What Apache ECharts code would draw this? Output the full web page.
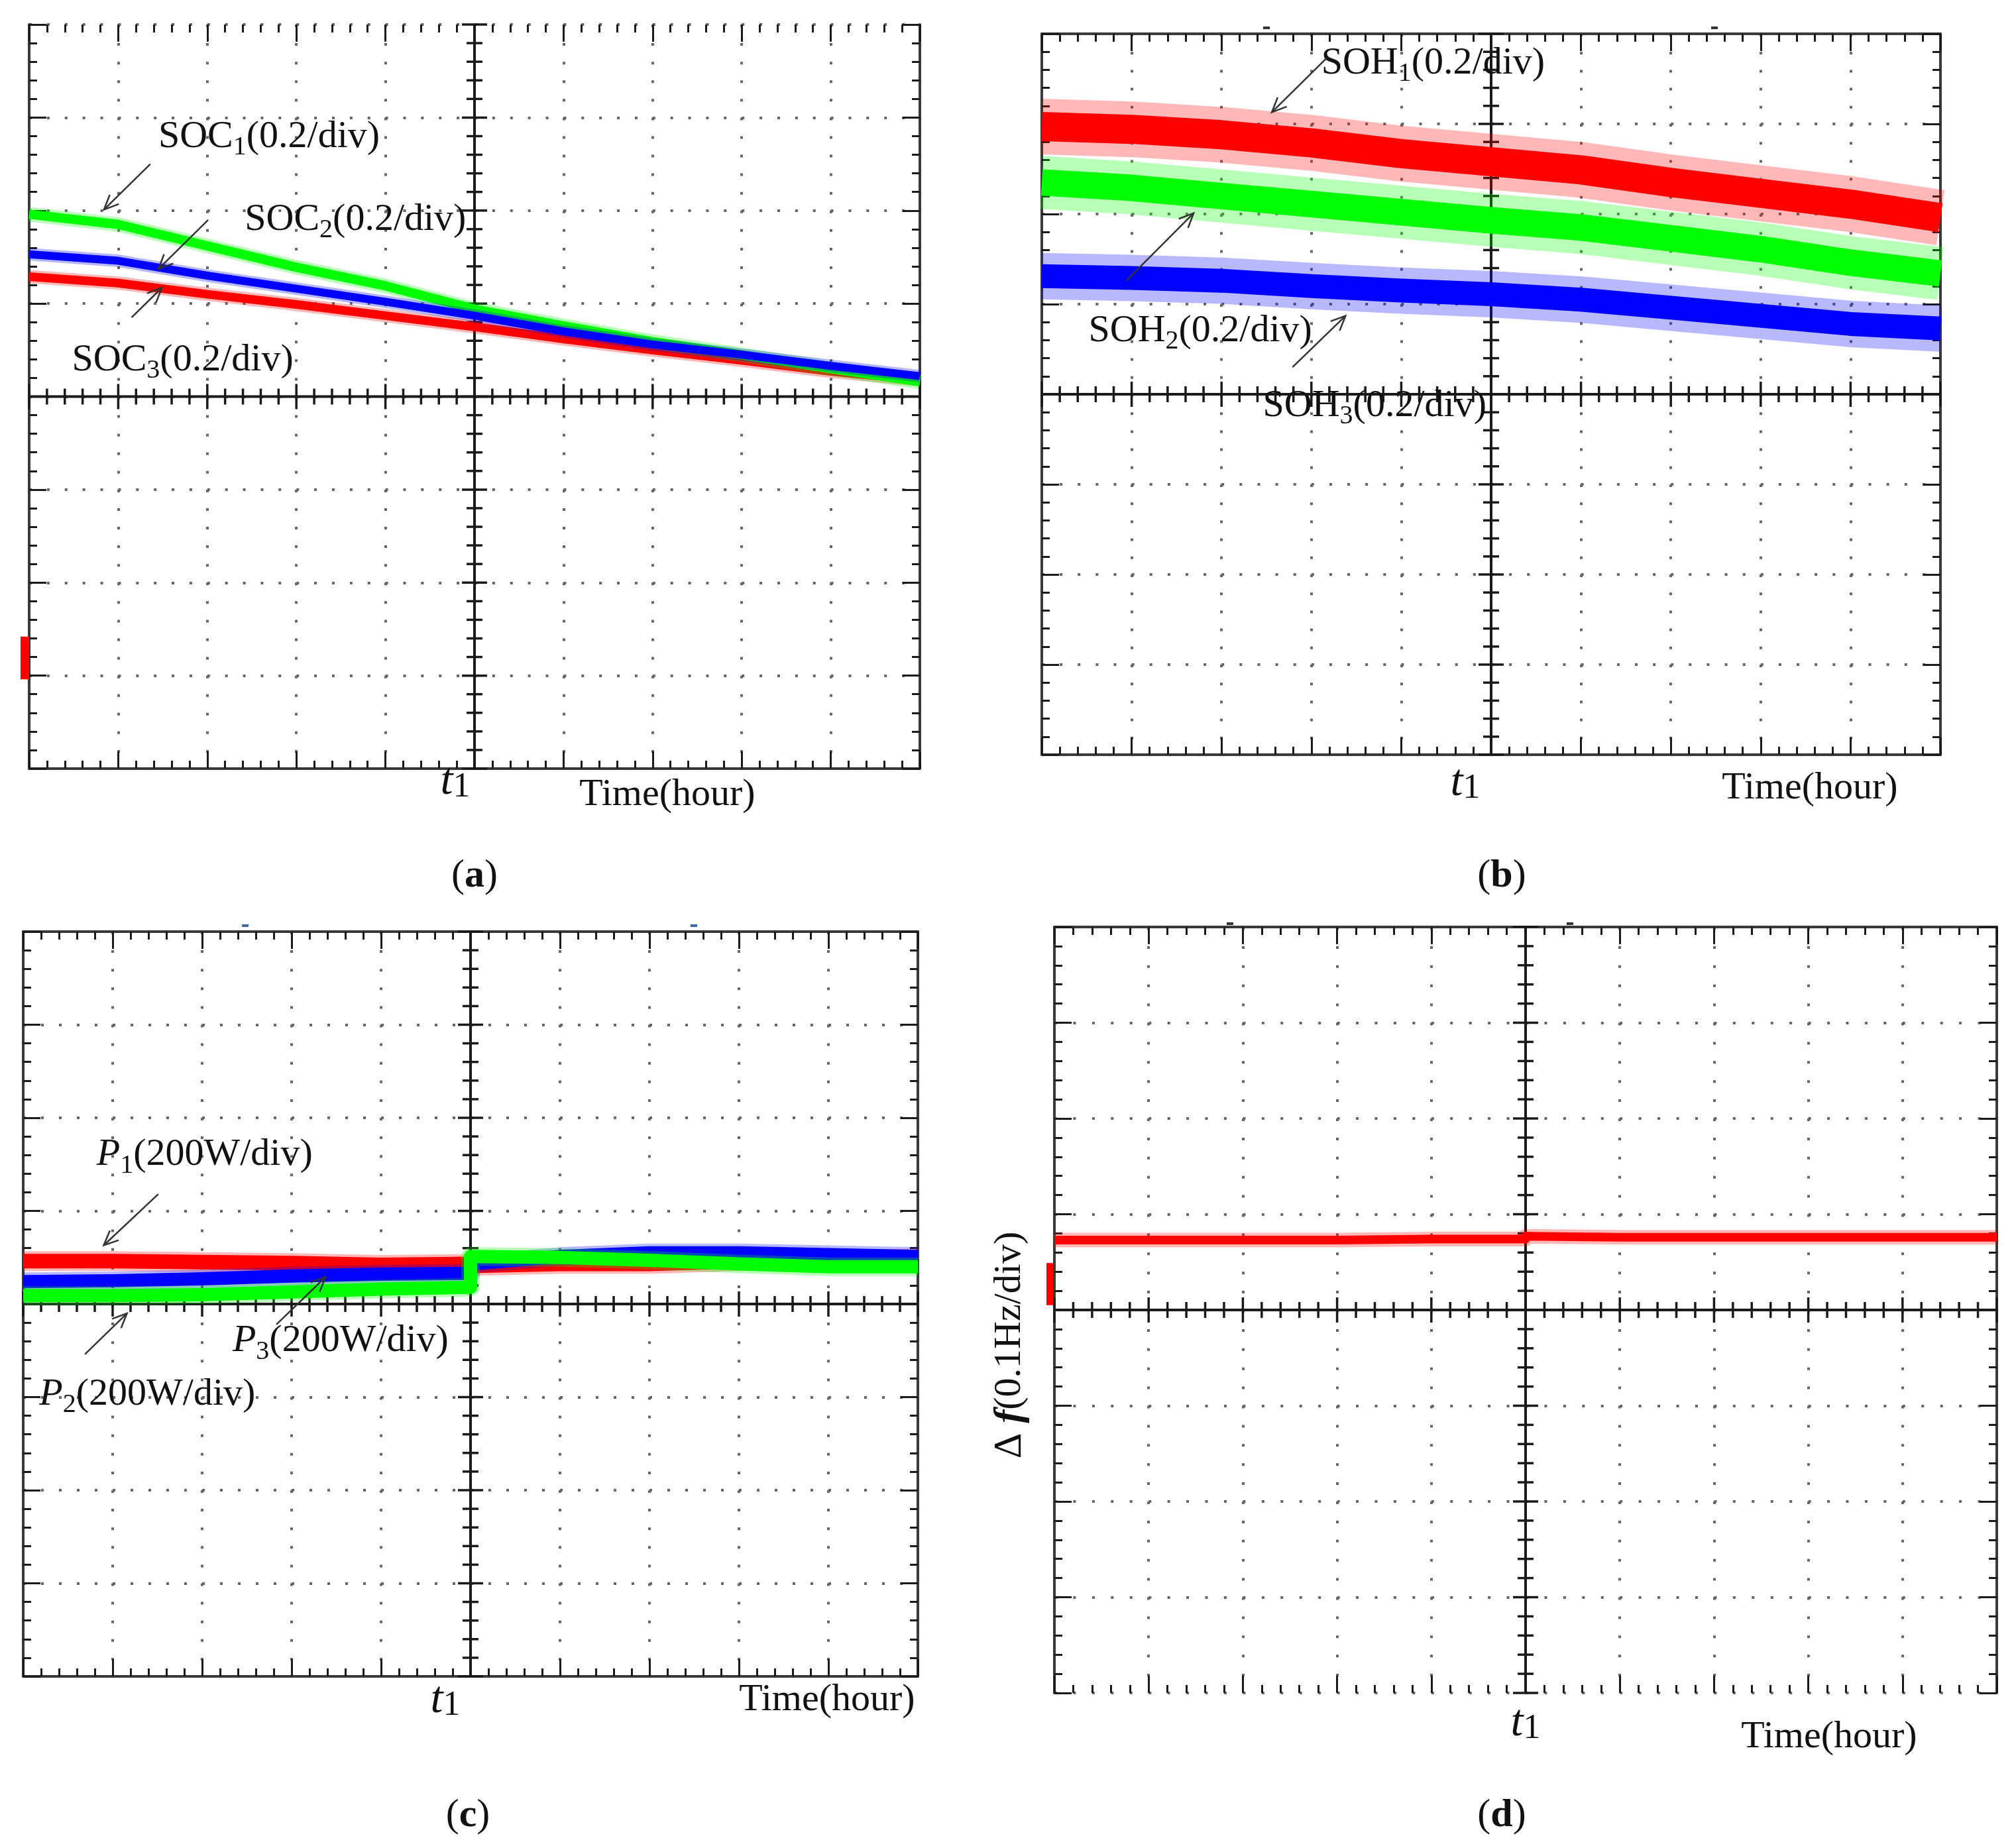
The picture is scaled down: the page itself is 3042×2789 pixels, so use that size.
<!DOCTYPE html>
<html>
<head>
<meta charset="utf-8">
<script src="https://cdn.jsdelivr.net/npm/echarts@6/dist/echarts.min.js"></script>
<style>
html,body{margin:0;padding:0;background:#fff;}
#main{width:3042px;height:2789px;}
</style>
</head>
<body>
<div id="main"></div>
<script>
// all values are in screen divisions, t1 sits at x = 0
var xDiv = [-5,-4,-3,-2,-1,0,1,2,3,4,5];
// (a) SOC traces
var soc1 = [1.96,1.85,1.62,1.39,1.19,0.94,0.76,0.59,0.45,0.30,0.16];
var soc2 = [1.53,1.46,1.30,1.16,1.02,0.87,0.70,0.56,0.45,0.33,0.22];
var soc3 = [1.29,1.22,1.10,0.99,0.87,0.75,0.62,0.50,0.39,0.27,0.18];
// (b) SOH traces
var soh1 = [2.97,2.94,2.88,2.79,2.67,2.58,2.49,2.35,2.23,2.11,1.96];
var soh2 = [2.35,2.29,2.20,2.11,2.02,1.93,1.85,1.73,1.61,1.46,1.34];
var soh3 = [1.31,1.29,1.26,1.20,1.15,1.11,1.05,0.96,0.87,0.78,0.73];
// (c) power traces, before and after t1
var xLeft = [-5,-4,-3,-2,-1,0];
var xRight = [0,1,2,3,4,5];
var p1Left = [0.46,0.46,0.45,0.44,0.42,0.43];
var p1Right = [0.41,0.43,0.43,0.46,0.47,0.49];
var p2Left = [0.24,0.25,0.27,0.30,0.32,0.33];
var p2Right = [0.43,0.51,0.55,0.55,0.53,0.51];
var p3Left = [0.09,0.09,0.10,0.13,0.16,0.18];
var p3Right = [0.51,0.50,0.47,0.43,0.40,0.40];
// (d) frequency deviation
var dfLeft = [0.73,0.73,0.73,0.73,0.74,0.74];
var dfRight = [0.77,0.76,0.76,0.76,0.76,0.76];

var SERIF = "'Liberation Serif','Times New Roman',serif";
var INK = '#1a1a1a', FRAME = '#3a3a3a';
var RED = '#ff0000', GREEN = '#00ff00', BLUE = '#0000ff';

var panels = [
	{left:44, top:37, width:1344, height:1123, topLine:false, bottomLine:true},
	{left:1572, top:51, width:1356, height:1088, topLine:true, bottomLine:true},
	{left:35, top:1406, width:1350, height:1124, topLine:true, bottomLine:true},
	{left:1591, top:1399, width:1422, height:1156, topLine:true, bottomLine:false}
];

function zip(xs, ys){
	var out = [];
	for (var i = 0; i < xs.length; i++) out.push([xs[i], ys[i]]);
	return out;
}

//外框坐标轴(带刻度和点状网格)
function frameAxis(dim, gi, pos, p, split, lineShow){
	var isX = dim == 'x';
	var step = isX ? p.height / 40 : p.width / 50;
	return {
		type: 'value', gridIndex: gi, position: pos,
		min: isX ? -5 : -4, max: isX ? 5 : 4, interval: 1,
		axisLine: {show: lineShow, onZero: false, lineStyle: {color: FRAME, width: 4}},
		axisTick: {show: true, inside: true, length: 26, lineStyle: {color: INK, width: 3}},
		minorTick: {show: true, splitNumber: 5, length: 12, lineStyle: {color: INK, width: 3}},
		axisLabel: {show: false},
		splitLine: {show: split, lineStyle: {color: '#666', width: 4, type: [4, step - 4]}},
		minorSplitLine: {show: false}
	};
}

var grids = [], xAxes = [], yAxes = [];
for (var i = 0; i < panels.length; i++){
	var p = panels[i];
	grids.push({left: p.left, top: p.top, width: p.width, height: p.height, outerBoundsMode: 'none', containLabel: false});
	xAxes.push(frameAxis('x', i, 'bottom', p, true, p.bottomLine));
	xAxes.push(frameAxis('x', i, 'top', p, false, p.topLine));
	yAxes.push(frameAxis('y', i, 'left', p, true, true));
	yAxes.push(frameAxis('y', i, 'right', p, false, true));
}

function trace(pi, name, data, color, width, halo){
	var list = [];
	if (halo) {
		list.push({
			type: 'line', name: name, xAxisIndex: 2*pi, yAxisIndex: 2*pi,
			data: data, symbol: 'none', showSymbol: false, silent: true, z: 3,
			lineStyle: {color: color, width: halo, opacity: 0.28, cap: 'butt', join: 'round'}
		});
	}
	list.push({
		type: 'line', name: name, xAxisIndex: 2*pi, yAxisIndex: 2*pi,
		data: data, symbol: 'none', showSymbol: false, silent: true, z: 3,
		lineStyle: {color: color, width: width, cap: 'butt', join: 'round'}
	});
	return list;
}

var series = [].concat(
	trace(0, 'SOC3', zip(xDiv, soc3), RED, 13, 20),
	trace(0, 'SOC1', zip(xDiv, soc1), GREEN, 14, 22),
	trace(0, 'SOC2', zip(xDiv, soc2), BLUE, 12, 19),
	trace(1, 'SOH1', zip(xDiv, soh1), RED, 44, 84),
	trace(1, 'SOH2', zip(xDiv, soh2), GREEN, 40, 80),
	trace(1, 'SOH3', zip(xDiv, soh3), BLUE, 36, 70),
	trace(2, 'P1', zip(xLeft, p1Left).concat(zip(xRight, p1Right)), RED, 22, 30),
	trace(2, 'P2', zip(xLeft, p2Left).concat(zip(xRight, p2Right)), BLUE, 20, 28),
	trace(2, 'P3', zip(xLeft, p3Left).concat(zip(xRight, p3Right)), GREEN, 20, 28),
	trace(3, 'df', zip(xLeft, dfLeft).concat(zip(xRight, dfRight)), RED, 13, 22)
);

var chart = echarts.init(document.getElementById('main'));
chart.setOption({
	animation: false,
	backgroundColor: '#fff',
	grid: grids,
	xAxis: xAxes,
	yAxis: yAxes,
	series: series
});

/*
 * 中心十字线、标注文字与箭头
 */
function px(pi, x, y){
	return chart.convertToPixel({xAxisIndex: 2*pi, yAxisIndex: 2*pi}, [x, y]);
}
function seg(x1, y1, x2, y2, w, z){
	return {type: 'line', silent: true, z: z, shape: {x1: x1, y1: y1, x2: x2, y2: y2}, style: {stroke: INK, lineWidth: w}};
}
function crosshair(pi){
	var out = [];
	var l = px(pi, -5, 0), r = px(pi, 5, 0), t = px(pi, 0, 4), b = px(pi, 0, -4);
	out.push(seg(l[0], l[1], r[0], r[1], 4, 1));
	out.push(seg(t[0], t[1], b[0], b[1], 4, 1));
	for (var k = -25; k <= 25; k++){
		var q = px(pi, k / 5, 0), L = k % 5 == 0 ? 19 : 12;
		out.push(seg(q[0], q[1] - L, q[0], q[1] + L, 3.5, 1));
	}
	for (var k = -20; k <= 20; k++){
		var q = px(pi, 0, k / 5), L = k % 5 == 0 ? 19 : 12;
		out.push(seg(q[0] - L, q[1], q[0] + L, q[1], 3.5, 1));
	}
	return out;
}
var rich = {
	m: {fontSize: 58, fontFamily: SERIF, lineHeight: 72, verticalAlign: 'middle', fill: '#111'},
	i: {fontSize: 58, fontFamily: SERIF, fontStyle: 'italic', lineHeight: 72, verticalAlign: 'middle', fill: '#111'},
	s: {fontSize: 40, fontFamily: SERIF, lineHeight: 40, verticalAlign: 'bottom', fill: '#111'},
	t: {fontSize: 68, fontFamily: SERIF, fontStyle: 'italic', lineHeight: 68, verticalAlign: 'bottom', fill: '#111'},
	o: {fontSize: 52, fontFamily: SERIF, lineHeight: 52, verticalAlign: 'bottom', fill: '#111'},
	b: {fontSize: 60, fontFamily: SERIF, fontWeight: 'bold', lineHeight: 72, verticalAlign: 'middle', fill: '#111'},
	n: {fontSize: 60, fontFamily: SERIF, lineHeight: 72, verticalAlign: 'middle', fill: '#111'},
	fi: {fontSize: 60, fontFamily: SERIF, fontStyle: 'italic', fontWeight: 'bold', lineHeight: 72, verticalAlign: 'middle', fill: '#111'}
};
function text(x, y, str, align){
	return {type: 'text', x: x, y: y, silent: true, z: 10,
		style: {text: str, rich: rich, align: align || 'left', verticalAlign: 'middle', fill: '#111'}};
}
function label(pi, x, y, str){
	var c = px(pi, x, y);
	return text(c[0], c[1], str, 'left');
}
function arrow(pi, x1, y1, x2, y2){
	var a = px(pi, x1, y1), b = px(pi, x2, y2);
	var ang = Math.atan2(b[1] - a[1], b[0] - a[0]);
	var L = 24, w = 0.42;
	var h1 = [b[0] - L*Math.cos(ang - w), b[1] - L*Math.sin(ang - w)];
	var h2 = [b[0] - L*Math.cos(ang + w), b[1] - L*Math.sin(ang + w)];
	return [
		{type: 'line', silent: true, z: 10, shape: {x1: a[0], y1: a[1], x2: b[0], y2: b[1]}, style: {stroke: '#333', lineWidth: 2.5}},
		{type: 'polyline', silent: true, z: 10, shape: {points: [h1, b, h2]}, style: {stroke: '#333', lineWidth: 2.5, fill: null}}
	];
}
function marker(pi, x0, x1, ya, yb){
	var a = px(pi, 0, ya), b = px(pi, 0, yb);
	return {type: 'rect', silent: true, z: 9, shape: {x: x0, y: a[1], width: x1 - x0, height: b[1] - a[1]}, style: {fill: RED}};
}
function dash(x, y, color){
	return {type: 'rect', silent: true, z: 9, shape: {x: x - 5, y: y - 2, width: 10, height: 4}, style: {fill: color || '#333'}};
}

var els = [];
for (var i = 0; i < panels.length; i++) els = els.concat(crosshair(i));
// (a)
els.push(label(0, -3.55, 2.79, '{m|SOC}{s|1}{m|(0.2/div)}'));
els.push(label(0, -2.58, 1.90, '{m|SOC}{s|2}{m|(0.2/div)}'));
els.push(label(0, -4.52, 0.39, '{m|SOC}{s|3}{m|(0.2/div)}'));
els = els.concat(arrow(0, -3.64, 2.50, -4.16, 2.01));
els = els.concat(arrow(0, -2.99, 1.90, -3.55, 1.37));
els = els.concat(arrow(0, -3.85, 0.85, -3.51, 1.17));
els.push(marker(0, 31, 44, -2.58, -3.04));
els.push(text(687, 1180, '{t|t}{o|1}', 'center'));
els.push(text(1007, 1200, '{m|Time(hour)}', 'center'));
els.push(text(716, 1322, '{n|(}{b|a}{n|)}', 'center'));
// (b)
els.push(label(1, -1.89, 3.67, '{m|SOH}{s|1}{m|(0.2/div)}'));
els.push(label(1, -4.48, 0.70, '{m|SOH}{s|2}{m|(0.2/div)}'));
els.push(label(1, -2.54, -0.13, '{m|SOH}{s|3}{m|(0.2/div)}'));
els = els.concat(arrow(1, -1.83, 3.73, -2.44, 3.13));
els = els.concat(arrow(1, -4.06, 1.26, -3.31, 2.01));
els = els.concat(arrow(1, -2.21, 0.30, -1.62, 0.87));
els.push(dash(1911, 42));
els.push(dash(2587, 42));
els.push(text(2211, 1182, '{t|t}{o|1}', 'center'));
els.push(text(2731, 1190, '{m|Time(hour)}', 'center'));
els.push(text(2266, 1322, '{n|(}{b|b}{n|)}', 'center'));
// (c)
els.push(label(2, -4.18, 1.60, '{i|P}{s|1}{m|(200W/div)}'));
els.push(label(2, -4.82, -0.97, '{i|P}{s|2}{m|(200W/div)}'));
els.push(label(2, -2.66, -0.40, '{i|P}{s|3}{m|(200W/div)}'));
els = els.concat(arrow(2, -3.49, 1.18, -4.10, 0.63));
els = els.concat(arrow(2, -4.31, -0.54, -3.84, -0.10));
els = els.concat(arrow(2, -2.17, -0.22, -1.62, 0.29));
els.push(dash(370, 1397, '#4466aa'));
els.push(dash(1047, 1397, '#4466aa'));
els.push(text(672, 2566, '{t|t}{o|1}', 'center'));
els.push(text(1248, 2566, '{m|Time(hour)}', 'center'));
els.push(text(706, 2740, '{n|(}{b|c}{n|)}', 'center'));
// (d)
els.push(marker(3, 1579, 1589, 0.49, 0.05));
els.push(dash(1856, 1394));
els.push(dash(2369, 1394));
els.push(text(2302, 2601, '{t|t}{o|1}', 'center'));
els.push(text(2760, 2622, '{m|Time(hour)}', 'center'));
els.push(text(2266, 2740, '{n|(}{b|d}{n|)}', 'center'));
var yl = text(1524, 2030, '{n|Δ}{fi| f}{m|(0.1Hz/div)}', 'center');
yl.rotation = Math.PI / 2;
els.push(yl);

chart.setOption({graphic: {elements: els}});
</script>
</body>
</html>
